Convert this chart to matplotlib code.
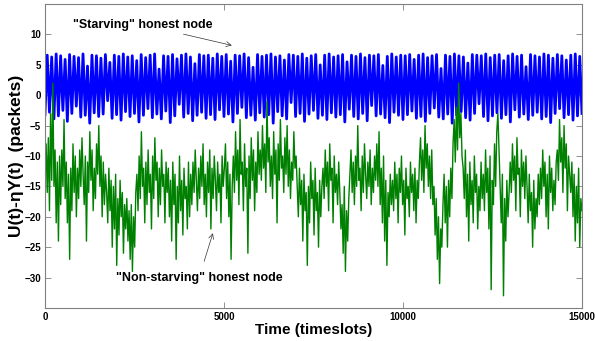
import numpy as np
import matplotlib
matplotlib.use("Agg")
import matplotlib.pyplot as plt

plt.rcParams['font.family'] = ['Liberation Sans', 'DejaVu Sans']
plt.rcParams['font.weight'] = 'bold'

# values (zig-zag envelope of the fast fluctuations)
starving = [
    -3.2, 6.6, -2.8, 6.3, -3.9, 6.8, -3.4, 6.5, -2.5, 5.9, -4.3, 6.7, -3.0, 6.4, -1.8, 6.2, -3.6, 6.8, -3.3, 4.8,
    -4.6, 6.6, -2.9, 6.5, -3.5, 6.1, -3.1, 6.7, -0.9, 5.4, -3.8, 6.6, -3.2, 6.4, -4.1, 6.8, -2.7, 6.3, -3.5, 6.5,
    -3.0, 5.7, -4.4, 6.7, -3.3, 6.2, -2.2, 6.6, -3.7, 6.8, -3.1, 4.3, -3.9, 6.5, -2.6, 6.4, -4.5, 6.7, -3.4, 6.0,
    -1.5, 6.6, -3.6, 6.8, -3.0, 6.3, -4.2, 5.2, -3.3, 6.7, -2.8, 6.5, -3.8, 6.6, -3.2, 6.1, -4.0, 6.8, -2.4, 6.4,
    -3.5, 6.7, -3.1, 5.6, -4.4, 6.6, -3.0, 6.5, -2.0, 6.8, -3.7, 6.2, -3.3, 4.6, -4.1, 6.7, -2.9, 6.4, -3.6, 6.6,
    -3.2, 6.8, -4.6, 6.3, -2.7, 6.5, -3.4, 5.8, -3.9, 6.7, -1.2, 6.6, -3.5, 6.4, -3.0, 6.8, -4.3, 6.1, -3.1, 6.5,
    -2.5, 6.7, -3.8, 5.0, -3.3, 6.6, -4.0, 6.8, -2.9, 6.3, -3.6, 6.5, -3.2, 6.7, -4.4, 5.5, -2.3, 6.6, -3.5, 6.4,
    -3.9, 6.8, -3.0, 6.2, -4.2, 6.6, -1.7, 6.5, -3.4, 6.7, -3.1, 4.9, -3.7, 6.4, -4.5, 6.8, -2.8, 6.3, -3.3, 6.6,
    -4.0, 6.5, -3.2, 6.7, -2.6, 5.9, -3.8, 6.6, -3.5, 6.8, -4.3, 6.2, -3.0, 6.5, -2.1, 6.7, -3.6, 4.4, -3.9, 6.6,
    -3.1, 6.4, -4.6, 6.8, -3.3, 6.5, -2.7, 6.3, -3.7, 5.3, -4.1, 6.7, -3.0, 6.6, -1.4, 6.5, -3.5, 6.8, -4.2, 6.2,
    -3.4, 6.6, -2.9, 6.7, -3.8, 5.7, -3.2, 6.5, -4.4, 6.8, -2.4, 6.4, -3.6, 6.6, -3.1, 4.7, -4.0, 6.7, -3.3, 6.5,
    -2.8, 6.3, -3.9, 6.8, -3.5, 6.6, -4.5, 6.1, -3.0, 6.7, -2.2, 6.5, -3.7, 5.8, -3.2, 6.6, -4.1, 6.8, -3.4, 6.4,
    -3.0,
]

non_starving = [
    -12, -8, -16, -7, -19, -3, -14, 2, -15, -9, -21, -11, -24,
    -10, -18, -9, -15, -4, -17, -11, -21, -13, -27, -12, -19, -8, -16, -10, -20, -12, -17,
    -9, -15, -7, -13, -18, -10, -24, -11, -16, -6, -14, -9, -19, -12, -17, -8, -13, -5, -15, -10, -20, -11, -18, -13,
    -16, -21, -12, -19, -14, -25, -15, -22, -13, -28, -17, -23, -14, -20, -16, -26, -18, -22,
    -17, -24, -19, -27, -18, -29, -20, -25, -16,
    -13, -19, -10, -17, -6, -15, -12, -21, -11, -18, -9, -16, -13, -22, -10, -17, -7, -14, -11, -20,
    -12, -18, -9, -15, -13, -21, -11,
    -16, -12, -20, -14, -24, -11, -18, -13, -27, -15, -21, -10, -19, -14, -23, -12, -17, -15, -22, -11,
    -20, -13, -18,
    -11, -16, -9, -14, -19, -12, -17, -10, -15, -8, -18, -13, -20, -11, -16, -9, -22, -12, -17, -10,
    -14, -19, -11, -16, -13, -21, -10, -15, -12,
    -8, -17, -11, -20, -13, -27, -15,
    -10, -16, -6, -14, -9, -18, -4, -13, -11, -19, -8, -15, -12, -26, -10, -17, -7, -14, -9, -19,
    -11, -16, -6, -13,
    -9, -14, -5, -12, -8, -16, -1, -11, -7, -15, -10, -17, -6, -13, -9, -21, -8, -14, -4, -12,
    -10, -16, -7, -13, -5, -15, -9, -17, -11, -14, -6, -12, -10,
    -15, -20, -12, -18, -14, -24, -13, -19, -16, -28, -15, -21, -11, -17, -14, -23, -12, -19, -16, -25,
    -14, -20, -15,
    -12, -17, -9, -15, -11, -19, -8, -14, -12, -21, -10, -16, -13, -18, -11,
    -16, -22, -18, -26, -15, -29, -19, -24, -17,
    -13, -9, -16, -11, -18, -10, -15, -5, -14, -12, -19, -10, -16, -8, -13, -17, -11, -15, -9, -18,
    -12, -16, -10, -14,
    -8, -15, -6, -18, -12, -21, -10, -24, -14, -28, -16, -20, -13, -18,
    -14, -19, -11, -17, -13, -21, -12, -16, -10, -18, -14, -23, -12, -17, -15, -20, -11, -16, -13, -19,
    -12, -21, -14, -17,
    -11, -7, -14, -9, -16, -5, -12, -8, -15, -10, -17, -9,
    -18, -15, -23, -17, -27, -20, -31, -22, -25,
    -18, -13, -21, -15, -25, -14, -20, -12, -17,
    -8, -4, -11, -2, -9, 2, -7, -3, -10,
    -12, -17, -9, -20, -13, -24, -11, -18, -14, -21, -10, -16, -13, -22, -15, -19, -11, -17,
    -13, -19, -9, -16, -12, -22, -10, -32, -14, -18, -8, -15,
    -6, -3, -9,
    -15, -21, -13, -33, -17, -24, -14, -20, -16,
    -11, -16, -8, -14, -10, -19, -7, -13, -12, -20, -9, -15, -11, -17, -10,
    -15, -21, -13, -19, -16, -25, -14, -22, -17, -20, -13, -18,
    -12, -17, -9, -15, -11, -20, -13, -22, -10, -16, -12, -19, -14, -18, -11,
    -9, -14, -4, -11, -7, -16, -5, -12, -8, -19, -10, -13,
    -16, -11, -20, -13, -24, -15, -21, -12, -25, -17, -19,
]

t_max = 15000
t_starving = np.linspace(0, t_max, len(starving))
t_non_starving = np.linspace(0, t_max, len(non_starving))

fig = plt.figure(figsize=(5.95, 3.41), dpi=100)
ax = fig.add_axes([0.0756, 0.097, 0.9025, 0.891])

ax.plot(t_starving, starving, color='#0000ff', lw=2.0)
ax.plot(t_non_starving, non_starving, color='#008000', lw=1.0)

ax.set_xlim(0, t_max)
ax.set_ylim(-35, 15)
ax.set_xticks([0, 5000, 10000, 15000])
ax.set_yticks([-30, -25, -20, -15, -10, -5, 0, 5, 10])
ax.tick_params(direction='in', top=True, right=True, length=4, width=0.6,
               color='#808080', labelsize=7, pad=3)
for lab in ax.get_xticklabels() + ax.get_yticklabels():
    lab.set_fontweight('bold')
for sp in ax.spines.values():
    sp.set_color('#808080')
    sp.set_linewidth(0.8)

ax.set_xlabel('Time (timeslots)', fontsize=11, fontweight='bold', labelpad=1)
ax.set_ylabel('U(t)-ηY(t)  (packets)', fontsize=12.5, fontweight='bold', labelpad=0)

ax.annotate('"Starving" honest node', xy=(5220, 8.2), xytext=(2740, 11.6),
            fontsize=9, fontweight='bold', ha='center', va='center',
            arrowprops=dict(arrowstyle='->', lw=0.5, color='#333333',
                            shrinkA=2, shrinkB=0))
ax.annotate('"Non-starving" honest node', xy=(4690, -22.7), xytext=(4300, -30.1),
            fontsize=9, fontweight='bold', ha='center', va='center',
            arrowprops=dict(arrowstyle='->', lw=0.5, color='#333333',
                            shrinkA=6, shrinkB=0))

fig.savefig('out.png', dpi=100)
